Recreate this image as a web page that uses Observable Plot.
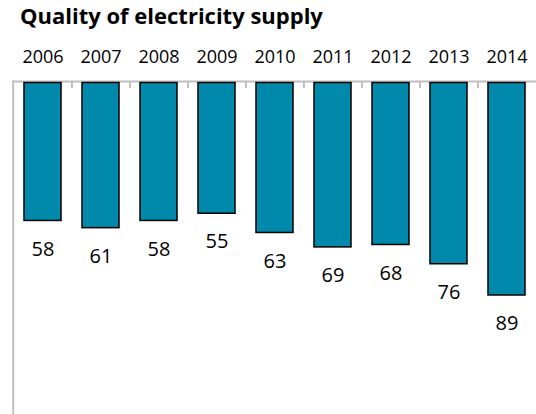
<!DOCTYPE html>
<html><head><meta charset="utf-8">
<script src="https://cdn.jsdelivr.net/npm/d3@7"></script>
<script src="https://cdn.jsdelivr.net/npm/@observablehq/plot@0.6"></script>
<style>
body{margin:0;background:#fff;font-family:"Open Sans",sans-serif;}
#title{height:36px;box-sizing:border-box;padding:3.5px 0 0 20px;font-size:22px;line-height:22px;font-weight:700;color:#000;white-space:pre;}
#chart svg{display:block;}
</style></head><body>
<div id="title">Quality of electricity supply</div>
<div id="chart"></div>
<script>
const years = ["2006","2007","2008","2009","2010","2011","2012","2013","2014"];
const values = [58,61,58,55,63,69,68,76,89];
const data = years.map((year,i)=>({year, value: values[i]}));
const W=536, H=378, mL=12.7, mT=45;
const step = (W - mL)/years.length;
const chart = Plot.plot({
  width: W, height: H, marginLeft: mL, marginRight: 0, marginTop: mT, marginBottom: 0,
  style: {fontFamily: "Open Sans", background:"#fff", overflow:"visible"},
  x: {domain: years, paddingInner: 0.36, paddingOuter: 0.18, axis: null, label: null},
  y: {domain: [0, 138.5], reverse: true, axis: null},
  marks: [
    Plot.frame({anchor:"left", stroke:"#bfbfbf", strokeWidth:2}),
    Plot.frame({anchor:"top", stroke:"#bfbfbf", strokeWidth:2}),
    Plot.ruleX(years.slice(1), {x: d=>d, dx: -step/2, y1: 0, y2: 2.9, stroke:"#bfbfbf", strokeWidth:2}),
    Plot.barY(data, {x:"year", y:"value", fill:"#0089aa", stroke:"#000", strokeWidth:1.5, insetTop:1.5}),
    Plot.axisX({anchor:"top", tickSize:0, tickPadding:18.7, fontSize:18, label:null}),
    Plot.text(data, {x:"year", y:"value", text: d=>String(d.value), lineAnchor:"top", dy:20.5, fontSize:20, fill:"#000"})
  ]
});
document.getElementById("chart").append(chart);
</script>
</body></html>
